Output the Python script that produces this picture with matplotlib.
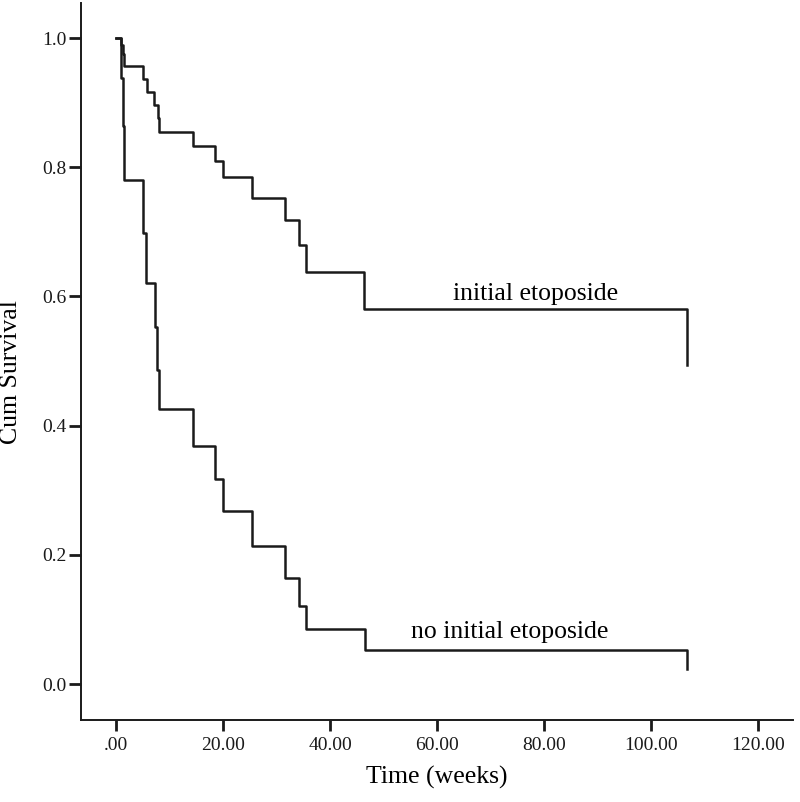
import matplotlib.pyplot as plt
import numpy as np

# Kaplan-Meier steps
time_init = [0, 0.9, 1.2, 1.55, 5.0, 5.7, 7.1, 7.9, 8.1, 14.3, 18.5, 19.9,
             25.4, 31.6, 34.2, 35.5, 46.4, 106.7]
surv_init = [1.0, 0.989, 0.976, 0.957, 0.936, 0.917, 0.896, 0.876, 0.855, 0.833,
             0.809, 0.785, 0.753, 0.718, 0.680, 0.638, 0.580, 0.494]

time_noinit = [0, 0.93, 1.36, 1.55, 5.1, 5.5, 7.2, 7.7, 8.1, 14.3, 18.5, 19.9,
               25.4, 31.6, 34.2, 35.5, 46.5, 106.7]
surv_noinit = [1.0, 0.938, 0.864, 0.781, 0.699, 0.621, 0.552, 0.486, 0.426, 0.368,
               0.317, 0.268, 0.214, 0.164, 0.121, 0.086, 0.052, 0.023]

x_ticks = [0, 20, 40, 60, 80, 100, 120]
x_labels = [".00", "20.00", "40.00", "60.00", "80.00", "100.00", "120.00"]
y_ticks = [0.0, 0.2, 0.4, 0.6, 0.8, 1.0]
y_labels = ["0.0", "0.2", "0.4", "0.6", "0.8", "1.0"]

plt.rcParams['font.family'] = ['Liberation Serif', 'DejaVu Serif']

fig = plt.figure(figsize=(8, 8.02), dpi=100)
ax = fig.add_axes([0.101, 0.1022, 0.890, 0.8938])

line_col = "#1a1a1a"
ax.step(time_init, surv_init, where="post", color=line_col, lw=1.8)
ax.step(time_noinit, surv_noinit, where="post", color=line_col, lw=1.8)

ax.text(78.5, 0.594, "initial etoposide", fontsize=18.5, ha="center", va="baseline")
ax.text(73.6, 0.071, "no initial etoposide", fontsize=18.5, ha="center", va="baseline")

ax.set_xlim(-6.6, 126.5)
ax.set_ylim(-0.0557, 1.054)
ax.set_xticks(x_ticks)
ax.set_xticklabels(x_labels)
ax.set_yticks(y_ticks)
ax.set_yticklabels(y_labels)

ax.spines["top"].set_visible(False)
ax.spines["right"].set_visible(False)
for s in ["left", "bottom"]:
    ax.spines[s].set_linewidth(1.4)
    ax.spines[s].set_color(line_col)

ax.tick_params(axis="y", direction="out", length=8.5, width=2, pad=2,
               labelsize=14, colors=line_col)
ax.tick_params(axis="x", direction="out", length=8, width=2, pad=4.5,
               labelsize=14, colors=line_col)

fig.text(437 / 800, 0.031, "Time (weeks)", fontsize=18.5, ha="center", va="center")
fig.text(11 / 800, 0.536, "Cum Survival", fontsize=18.5, ha="center", va="center",
         rotation=90)

fig.savefig("out.png", dpi=100)
plt.close("all")
